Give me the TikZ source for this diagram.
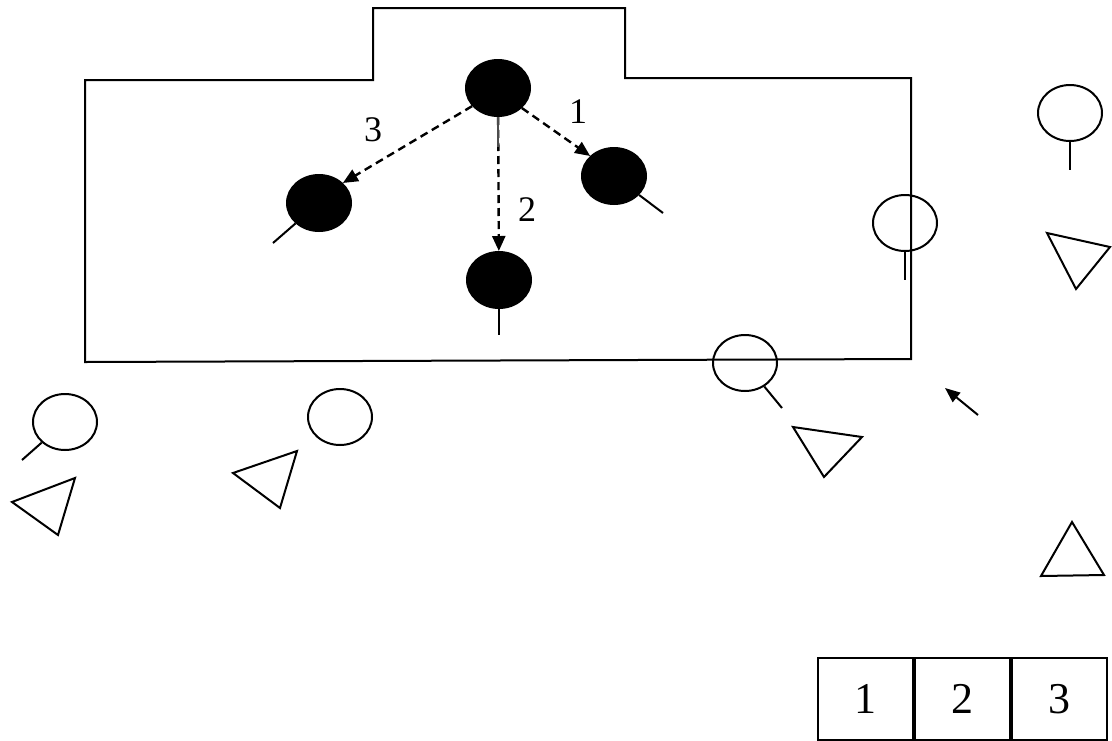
\documentclass[tikz,border=0pt]{standalone}
\usepackage{fontspec}
\setmainfont{Liberation Serif}
\usetikzlibrary{shapes.geometric,arrows.meta}
\begin{document}
\begin{tikzpicture}[x=1pt,y=-1pt,line width=2pt,
  player/.style={ellipse,fill=black,draw=black,minimum width=64pt,minimum height=56pt,inner sep=0pt},
  defender/.style={ellipse,draw=black,minimum width=64pt,minimum height=56pt,inner sep=0pt},
  pass/.style={line width=2.4pt,dash pattern=on 8pt off 5pt,-{Triangle[length=15pt,width=13pt]}},
  lbl/.style={font=\fontsize{36}{36}\selectfont,inner sep=0pt},
  cell/.style={draw=black,minimum width=95pt,minimum height=82pt,inner sep=0pt,font=\fontsize{44}{44}\selectfont},
  cone/.style={draw=black,line join=miter}]
\useasboundingbox (0,0) rectangle (1112,740);
\fill[white] (0,0) rectangle (1112,740);
% field outline
\draw (85,80) -- (373,80) -- (373,8) -- (625,8) -- (625,78) -- (911,78) -- (911,359) -- (85,362) -- cycle;
% attackers
\node[player] (pt) at (498,88) {};
\node[player] (pl) at (319,203) {};
\node[player] (pr) at (614,176) {};
\node[player] (pb) at (499,280) {};
\coordinate (sl) at (273,243);
\coordinate (sr) at (663,213);
\coordinate (sb) at (499,335);
\draw (pl) -- (sl);
\draw (pr) -- (sr);
\draw (pb) -- (sb);
% passes
\draw[pass] (pt.215) -- (pl.40);
\draw[pass] (pt.320) -- (pr.140);
\draw[pass] (pt) -- (pb);
\draw[line width=2pt,draw=black!70] (pt.south) -- ++(0,30);
\node[lbl] (l3) at (373,130) {3};
\node[lbl] (l1) at (578,112) {1};
\node[lbl] (l2) at (527,210) {2};
% defenders (open circles)
\node[defender] (d1) at (1070,113) {};
\coordinate (d1s) at (1070,170);
\draw (d1) -- (d1s);
\node[defender] (d2) at (905,223) {};
\coordinate (d2s) at (905,280);
\draw (d2.south) -- (d2s);
\node[defender] (d3) at (745,363) {};
\coordinate (d3s) at (782,408);
\draw (d3) -- (d3s);
\node[defender] (d4) at (65,422) {};
\coordinate (d4s) at (22,460);
\draw (d4) -- (d4s);
\node[defender] (d5) at (340,417) {};
% cones / triangles
\draw[cone] (12,502) -- (75,478) -- (58,535) -- cycle;
\draw[cone] (233,473) -- (297,451) -- (280,508) -- cycle;
\draw[cone] (793,427) -- (862,437) -- (824,477) -- cycle;
\draw[cone] (1047,233) -- (1110,247) -- (1076,289) -- cycle;
\draw[cone] (1072,522) -- (1041,576) -- (1104,575) -- cycle;
% small arrow
\coordinate (aS) at (978,415);
\coordinate (aE) at (945,388);
\draw[-{Triangle[length=15pt,width=12pt]}] (aS) -- (aE);
% table
\node[cell] (c1) at (865.5,699) {1};
\node[cell,anchor=west] (c2) at (c1.east) {2};
\node[cell,anchor=west] (c3) at (c2.east) {3};
\end{tikzpicture}
\end{document}
